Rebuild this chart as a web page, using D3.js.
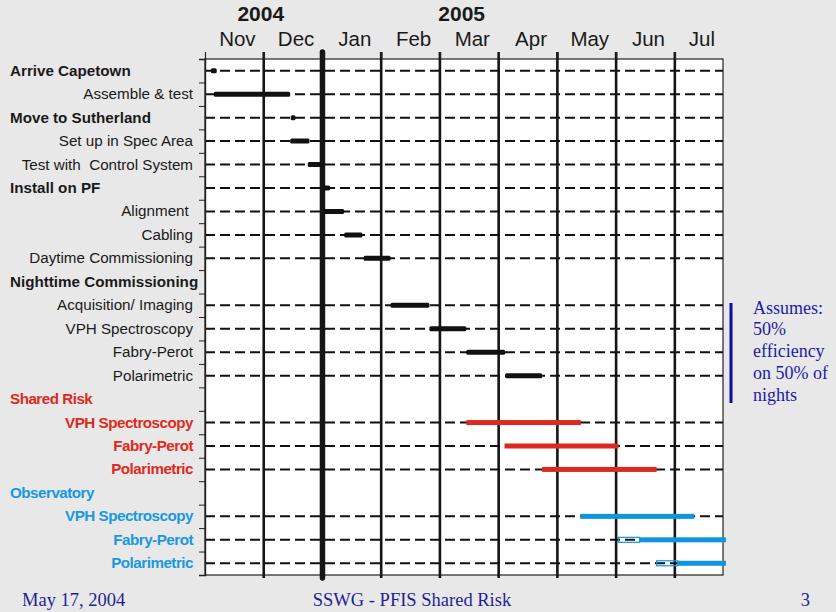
<!DOCTYPE html>
<html>
<head>
<meta charset="utf-8">
<script src="https://cdn.jsdelivr.net/npm/d3@7/dist/d3.min.js"></script>
<style>
  body { margin: 0; background: #e8e8e8; }
  svg { display: block; }
</style>
</head>
<body>
<svg id="chart" width="836" height="612"></svg>
<script>
// months on the top axis, counted from 1 Nov 2004
var months = ["Nov", "Dec", "Jan", "Feb", "Mar", "Apr", "May", "Jun", "Jul"];
var yearLabels = ["2004", "2005"];
var yearAt = [0.95, 4.37]; // month position of the year label
var yearBreak = 2; // Jan 2005
var lastMonth = 8.82; // right edge of the plot, in months

var taskLabels = ["Arrive Capetown", "Assemble & test", "Move to Sutherland", "Set up in Spec Area",
  "Test with  Control System", "Install on PF", "Alignment ", "Cabling", "Daytime Commissioning",
  "Nighttime Commissioning", "Acquisition/ Imaging", "VPH Spectroscopy", "Fabry-Perot", "Polarimetric",
  "Shared Risk", "VPH Spectroscopy", "Fabry-Perot", "Polarimetric",
  "Observatory", "VPH Spectroscopy", "Fabry-Perot", "Polarimetric"];
var taskKind = ["head", "task", "head", "task", "task", "head", "task", "task", "task",
  "section", "task", "task", "task", "task",
  "section", "task", "task", "task",
  "section", "task", "task", "task"];
var taskGroup = ["plan", "plan", "plan", "plan", "plan", "plan", "plan", "plan", "plan",
  "plan", "plan", "plan", "plan", "plan",
  "risk", "risk", "risk", "risk",
  "obs", "obs", "obs", "obs"];
var taskStart = [0.1, 0.15, 1.46, 1.45, 1.75, 2.0, 2.0, 2.37, 2.7,
  null, 3.16, 3.82, 4.45, 5.11,
  null, 4.45, 5.1, 5.74,
  null, 6.39, 7.04, 7.69];
var taskEnd = [0.2, 1.45, 1.54, 1.78, 2.0, 2.13, 2.37, 2.68, 3.16,
  null, 3.82, 4.45, 5.11, 5.74,
  null, 6.4, 7.04, 7.69,
  null, 8.33, 8.87, 8.87];
// hollow lead-in part of the last two observatory bars
var taskLead = [null, null, null, null, null, null, null, null, null,
  null, null, null, null, null,
  null, null, null, null,
  null, null, 7.4, 8.05];

var noteLines = ["Assumes:", "50%", "efficiency", "on 50% of", "nights"];
var footer = ["May 17, 2004", "SSWG - PFIS Shared Risk", "3"];

var colors = { plan: "#111111", risk: "#dd2a20", obs: "#0e95dd" };
var labelColors = { plan: "#1a1a1a", risk: "#dd2a20", obs: "#1a98df" };

var svg = d3.select("#chart"),
  margin = { top: 59, right: 113, bottom: 37, left: 205 },
  width = +svg.attr("width") - margin.left - margin.right,
  height = +svg.attr("height") - margin.top - margin.bottom;

var x = d3.scaleLinear().domain([0, lastMonth]).range([0, width]);
var rows = d3.range(taskLabels.length);
var y = d3.scaleBand().domain(rows).range([0, height]);
var yEdge = d3.scaleLinear().domain([0, rows.length]).range([0, height]);

var g = svg.append("g")
  .attr("transform", "translate(" + margin.left + "," + margin.top + ")");

g.append("rect")
  .attr("width", width)
  .attr("height", height)
  .attr("fill", "#ffffff")
  .attr("stroke", "#222")
  .attr("stroke-width", 1.2);

// dashed row lines (not for section headings)
g.selectAll(".rowline")
  .data(rows.filter(function(i) { return taskKind[i] != "section"; }))
  .enter()
  .append("line")
  .attr("class", "rowline")
  .attr("x1", 0)
  .attr("x2", width)
  .attr("y1", function(i) { return y(i) + y.bandwidth() / 2; })
  .attr("y2", function(i) { return y(i) + y.bandwidth() / 2; })
  .attr("stroke", "#111")
  .attr("stroke-width", 2)
  .attr("stroke-dasharray", "10,5");

// month gridlines
g.selectAll(".mgrid")
  .data(d3.range(1, months.length))
  .enter()
  .append("line")
  .attr("class", "mgrid")
  .attr("x1", function(d) { return x(d); })
  .attr("x2", function(d) { return x(d); })
  .attr("y1", -7)
  .attr("y2", height + 3)
  .attr("stroke", "#151515")
  .attr("stroke-width", function(d) { return d == yearBreak ? 5.5 : 2.6; })
  .attr("stroke-linecap", function(d) { return d == yearBreak ? "round" : "butt"; });

// top axis: ticks at month boundaries
g.append("g")
  .attr("class", "axis axis--x")
  .call(d3.axisTop(x).tickValues(d3.range(0, months.length)).tickSize(7).tickFormat(""))
  .call(function(a) { a.select(".domain").remove(); })
  .selectAll("line").attr("stroke", "#222").attr("stroke-width", 1.2);

// left axis: ticks at row edges
g.append("g")
  .attr("class", "axis axis--y")
  .call(d3.axisLeft(yEdge).tickValues(d3.range(0, rows.length + 1)).tickSize(6).tickFormat(""))
  .call(function(a) { a.select(".domain").attr("stroke", "#222").attr("stroke-width", 1.4); })
  .selectAll("line").attr("stroke", "#222").attr("stroke-width", 1);

// month labels, centred in the visible part of each month
g.selectAll(".month")
  .data(months)
  .enter()
  .append("text")
  .attr("class", "month")
  .attr("x", function(d, i) { return x((i + Math.min(i + 1, lastMonth)) / 2) + 3; })
  .attr("y", -13)
  .attr("text-anchor", "middle")
  .style("font-family", "Liberation Sans, Arial, sans-serif")
  .style("font-size", "20.5px")
  .attr("fill", "#1a1a1a")
  .text(function(d) { return d; });

g.selectAll(".year")
  .data(yearLabels)
  .enter()
  .append("text")
  .attr("class", "year")
  .attr("x", function(d, i) { return x(yearAt[i]); })
  .attr("y", -38)
  .attr("text-anchor", "middle")
  .style("font-family", "Liberation Sans, Arial, sans-serif")
  .style("font-size", "21px")
  .style("font-weight", "bold")
  .attr("fill", "#1a1a1a")
  .text(function(d) { return d; });

// bars
var barRows = rows.filter(function(i) { return taskStart[i] != null; });
g.selectAll(".bar")
  .data(barRows)
  .enter()
  .append("rect")
  .attr("class", "bar")
  .attr("x", function(i) { return x(taskLead[i] != null ? taskLead[i] : taskStart[i]); })
  .attr("y", function(i) { return y(i) + y.bandwidth() / 2 - 2.5; })
  .attr("width", function(i) {
    return x(taskEnd[i]) - x(taskLead[i] != null ? taskLead[i] : taskStart[i]);
  })
  .attr("height", 5)
  .attr("rx", function(i) { return taskGroup[i] == "plan" ? 1.5 : 0; })
  .attr("fill", function(i) { return colors[taskGroup[i]]; });

// hollow lead-in boxes
g.selectAll(".lead")
  .data(barRows.filter(function(i) { return taskLead[i] != null; }))
  .enter()
  .append("rect")
  .attr("class", "lead")
  .attr("x", function(i) { return x(taskStart[i]); })
  .attr("y", function(i) { return y(i) + y.bandwidth() / 2 - 2.5; })
  .attr("width", function(i) { return x(taskLead[i]) - x(taskStart[i]); })
  .attr("height", 5)
  .attr("fill", "none")
  .attr("stroke", colors.obs)
  .attr("stroke-width", 1.2);

// row labels
svg.selectAll(".label")
  .data(rows)
  .enter()
  .append("text")
  .attr("class", "label")
  .attr("x", function(i) { return taskKind[i] == "task" ? margin.left - 12 : 10; })
  .attr("y", function(i) { return margin.top + y(i) + y.bandwidth() / 2 + 5; })
  .attr("text-anchor", function(i) { return taskKind[i] == "task" ? "end" : "start"; })
  .style("font-family", "Liberation Sans, Arial, sans-serif")
  .style("font-size", "15.2px")
  .style("white-space", "pre")
  .style("font-weight", function(i) {
    return taskKind[i] != "task" || taskGroup[i] != "plan" ? "bold" : "normal";
  })
  .style("letter-spacing", function(i) { return taskGroup[i] != "plan" ? "-0.5px" : "0px"; })
  .attr("fill", function(i) { return labelColors[taskGroup[i]]; })
  .text(function(i) { return taskLabels[i]; });

// note on the right
svg.append("line")
  .attr("x1", 731).attr("x2", 731)
  .attr("y1", 303).attr("y2", 403)
  .attr("stroke", "#0a0aa8")
  .attr("stroke-width", 3);

svg.selectAll(".note")
  .data(noteLines)
  .enter()
  .append("text")
  .attr("class", "note")
  .attr("x", 753)
  .attr("y", function(d, i) { return 313.5 + i * 21.8; })
  .style("font-family", "Liberation Serif, Times New Roman, serif")
  .style("font-size", "18px")
  .attr("fill", "#1c1ca6")
  .text(function(d) { return d; });

// footer
svg.selectAll(".footer")
  .data(footer)
  .enter()
  .append("text")
  .attr("class", "footer")
  .attr("x", function(d, i) { return [22, 412, 810][i]; })
  .attr("y", 606)
  .attr("text-anchor", function(d, i) { return ["start", "middle", "end"][i]; })
  .style("font-family", "Liberation Serif, Times New Roman, serif")
  .style("font-size", "18.5px")
  .attr("fill", "#1f1f96")
  .text(function(d) { return d; });
</script>
</body>
</html>
